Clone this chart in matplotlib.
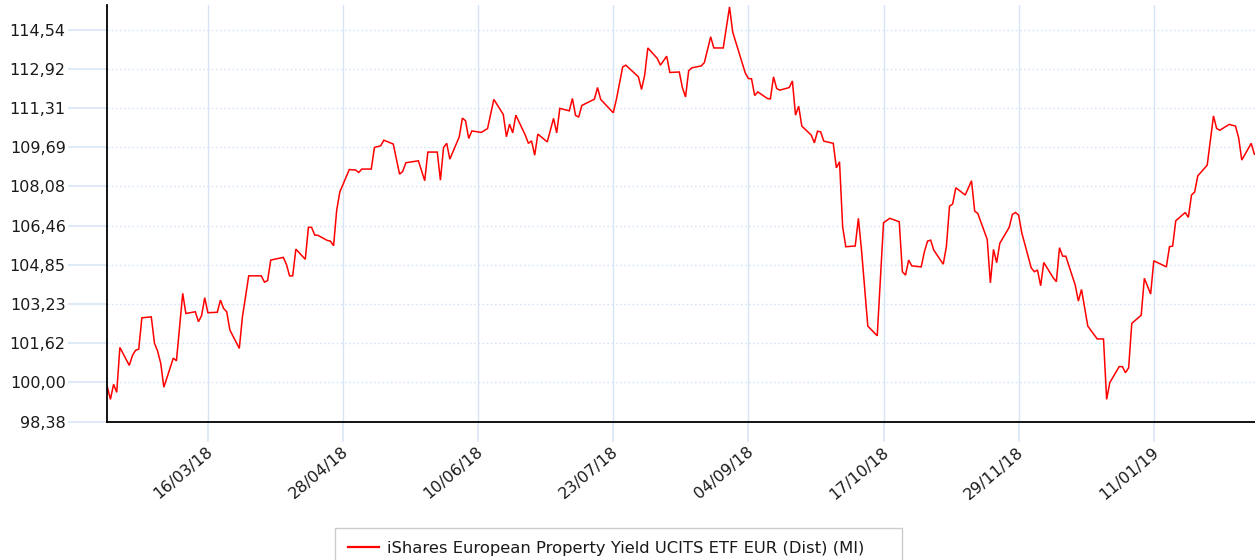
import matplotlib
matplotlib.use('Agg')
import matplotlib.pyplot as plt
import matplotlib.dates as mdates
import matplotlib.transforms as mtransforms
from matplotlib.patches import Rectangle
import pandas as pd

dates = [
    '2018-02-12', '2018-02-13', '2018-02-14', '2018-02-15', '2018-02-16', '2018-02-19', '2018-02-20',
    '2018-02-21', '2018-02-22', '2018-02-23', '2018-02-26', '2018-02-27', '2018-02-28', '2018-03-01',
    '2018-03-02', '2018-03-05', '2018-03-06', '2018-03-08', '2018-03-09', '2018-03-12', '2018-03-13',
    '2018-03-14', '2018-03-15', '2018-03-16', '2018-03-19', '2018-03-20', '2018-03-21', '2018-03-22',
    '2018-03-23', '2018-03-26', '2018-03-27', '2018-03-29', '2018-04-02', '2018-04-03', '2018-04-04',
    '2018-04-05', '2018-04-09', '2018-04-10', '2018-04-11', '2018-04-12', '2018-04-13', '2018-04-16',
    '2018-04-17', '2018-04-18', '2018-04-19', '2018-04-20', '2018-04-23', '2018-04-24', '2018-04-25',
    '2018-04-26', '2018-04-27', '2018-04-30', '2018-05-02', '2018-05-03', '2018-05-04', '2018-05-07',
    '2018-05-08', '2018-05-10', '2018-05-11', '2018-05-14', '2018-05-16', '2018-05-17', '2018-05-18',
    '2018-05-22', '2018-05-24', '2018-05-25', '2018-05-28', '2018-05-29', '2018-05-30', '2018-05-31',
    '2018-06-01', '2018-06-04', '2018-06-05', '2018-06-06', '2018-06-07', '2018-06-08', '2018-06-11',
    '2018-06-13', '2018-06-15', '2018-06-18', '2018-06-19', '2018-06-20', '2018-06-21', '2018-06-22',
    '2018-06-25', '2018-06-26', '2018-06-27', '2018-06-28', '2018-06-29', '2018-07-02', '2018-07-04',
    '2018-07-05', '2018-07-06', '2018-07-09', '2018-07-10', '2018-07-11', '2018-07-12', '2018-07-13',
    '2018-07-17', '2018-07-18', '2018-07-19', '2018-07-23', '2018-07-24', '2018-07-26', '2018-07-27',
    '2018-07-31', '2018-08-01', '2018-08-02', '2018-08-03', '2018-08-06', '2018-08-07', '2018-08-09',
    '2018-08-10', '2018-08-13', '2018-08-14', '2018-08-15', '2018-08-16', '2018-08-17', '2018-08-20',
    '2018-08-21', '2018-08-23', '2018-08-24', '2018-08-27', '2018-08-29', '2018-08-30', '2018-09-03',
    '2018-09-04', '2018-09-05', '2018-09-06', '2018-09-07', '2018-09-10', '2018-09-11', '2018-09-12',
    '2018-09-13', '2018-09-14', '2018-09-17', '2018-09-18', '2018-09-19', '2018-09-20', '2018-09-21',
    '2018-09-24', '2018-09-25', '2018-09-26', '2018-09-27', '2018-09-28', '2018-10-01', '2018-10-02',
    '2018-10-03', '2018-10-04', '2018-10-05', '2018-10-08', '2018-10-09', '2018-10-10', '2018-10-12',
    '2018-10-15', '2018-10-17', '2018-10-19', '2018-10-22', '2018-10-23', '2018-10-24', '2018-10-25',
    '2018-10-26', '2018-10-29', '2018-10-30', '2018-10-31', '2018-11-01', '2018-11-02', '2018-11-05',
    '2018-11-06', '2018-11-07', '2018-11-08', '2018-11-09', '2018-11-12', '2018-11-14', '2018-11-15',
    '2018-11-16', '2018-11-19', '2018-11-20', '2018-11-21', '2018-11-22', '2018-11-23', '2018-11-26',
    '2018-11-27', '2018-11-28', '2018-11-29', '2018-11-30', '2018-12-03', '2018-12-04', '2018-12-05',
    '2018-12-06', '2018-12-07', '2018-12-10', '2018-12-11', '2018-12-12', '2018-12-13', '2018-12-14',
    '2018-12-17', '2018-12-18', '2018-12-19', '2018-12-21', '2018-12-24', '2018-12-26', '2018-12-27',
    '2018-12-28', '2018-12-31', '2019-01-01', '2019-01-02', '2019-01-03', '2019-01-04', '2019-01-07',
    '2019-01-08', '2019-01-10', '2019-01-11', '2019-01-15', '2019-01-16', '2019-01-17', '2019-01-18',
    '2019-01-21', '2019-01-22', '2019-01-23', '2019-01-24', '2019-01-25', '2019-01-28', '2019-01-30',
    '2019-01-31', '2019-02-01', '2019-02-04', '2019-02-06', '2019-02-07', '2019-02-08', '2019-02-11',
    '2019-02-12',
]

values = [
    99.82, 99.30, 99.92, 99.59, 101.44, 100.70, 101.11,
    101.32, 101.37, 102.66, 102.70, 101.62, 101.29, 100.79,
    99.80, 101.00, 100.89, 103.67, 102.84, 102.91, 102.50,
    102.75, 103.49, 102.87, 102.89, 103.39, 103.05, 102.91,
    102.16, 101.40, 102.70, 104.39, 104.39, 104.13, 104.19,
    105.04, 105.15, 104.86, 104.39, 104.39, 105.49, 105.07,
    106.39, 106.39, 106.07, 106.06, 105.85, 105.82, 105.63,
    107.10, 107.85, 108.77, 108.75, 108.65, 108.79, 108.79,
    109.68, 109.75, 109.98, 109.82, 108.58, 108.69, 109.05,
    109.13, 108.31, 109.49, 109.49, 108.33, 109.68, 109.85,
    109.20, 110.12, 110.89, 110.78, 110.05, 110.36, 110.30,
    110.46, 111.66, 111.04, 110.12, 110.64, 110.28, 111.01,
    110.19, 109.85, 109.95, 109.36, 110.23, 109.91, 110.88,
    110.28, 111.29, 111.19, 111.70, 111.00, 110.93, 111.41,
    111.67, 112.15, 111.66, 111.11, 111.66, 113.00, 113.07,
    112.59, 112.07, 112.66, 113.78, 113.35, 113.07, 113.44,
    112.77, 112.79, 112.15, 111.76, 112.84, 112.96, 113.04,
    113.18, 114.24, 113.78, 113.78, 115.47, 114.44, 112.75,
    112.52, 112.51, 111.82, 111.97, 111.70, 111.68, 112.59,
    112.11, 112.04, 112.15, 112.42, 111.01, 111.38, 110.56,
    110.19, 109.87, 110.35, 110.32, 109.94, 109.85, 108.84,
    109.09, 106.41, 105.59, 105.62, 106.76, 105.45, 102.32,
    101.92, 106.58, 106.76, 106.62, 104.56, 104.42, 105.04,
    104.80, 104.76, 105.38, 105.82, 105.86, 105.45, 104.87,
    105.59, 107.26, 107.35, 108.02, 107.72, 108.31, 107.06,
    106.96, 105.89, 104.10, 105.48, 104.93, 105.73, 106.39,
    106.92, 107.00, 106.89, 106.16, 104.72, 104.56, 104.63,
    103.98, 104.94, 104.31, 104.15, 105.55, 105.20, 105.20,
    104.01, 103.35, 103.83, 102.32, 101.79, 101.79, 99.30,
    99.99, 100.65, 100.65, 100.40, 100.60, 102.43, 102.77,
    104.29, 103.64, 105.01, 104.76, 105.59, 105.62, 106.66,
    107.00, 106.80, 107.72, 107.84, 108.51, 108.95, 110.98,
    110.46, 110.39, 110.63, 110.56, 110.08, 109.16, 109.85,
    109.40,
]

x_tick_dates = ['2018-03-16', '2018-04-28', '2018-06-10', '2018-07-23',
                '2018-09-04', '2018-10-17', '2018-11-29', '2019-01-11']
y_ticks = [98.38, 100.00, 101.62, 103.23, 104.85, 106.46, 108.08, 109.69, 111.31, 112.92, 114.54]
y_tick_labels = ['98,38', '100,00', '101,62', '103,23', '104,85', '106,46',
                 '108,08', '109,69', '111,31', '112,92', '114,54']
series_label = 'iShares European Property Yield UCITS ETF EUR (Dist) (MI)'

W, H = 1255, 560
grid_col = '#d6e4f5'
text_col = '#1a1a1a'

fig = plt.figure(figsize=(W / 100, H / 100), dpi=100)
ax = fig.add_axes([107.3 / W, 1 - 421.7 / H, (W - 107.3) / W, (421.7 - 5) / H])

x = pd.to_datetime(dates)
line, = ax.plot(x, values, color='#ff0000', lw=1.1, solid_joinstyle='miter', zorder=3)

ax.set_xlim(pd.Timestamp('2018-02-12'), pd.Timestamp('2019-02-12 05:00'))
ax.set_ylim(98.38, 115.55)

ax.set_yticks(y_ticks)
ax.set_yticklabels(y_tick_labels)
ax.set_xticks(pd.to_datetime(x_tick_dates))
ax.xaxis.set_major_formatter(mdates.DateFormatter('%d/%m/%y'))

ax.set_axisbelow(True)
ax.yaxis.grid(True, linestyle=(0, (1.2, 1.8)), color=grid_col, lw=1.0)
ax.xaxis.grid(True, linestyle='-', color=grid_col, lw=1.0)

for s in ['top', 'right']:
    ax.spines[s].set_visible(False)
for s in ['left', 'bottom']:
    ax.spines[s].set_color('black')
    ax.spines[s].set_linewidth(1.3)
    ax.spines[s].set_zorder(4)

ax.tick_params(axis='y', length=28.3, width=1.1, color=grid_col, pad=1.7,
               labelsize=11.5, labelcolor=text_col)
ax.tick_params(axis='x', length=14.4, width=1.1, color=grid_col, pad=6,
               labelsize=11.5, labelcolor=text_col)
shift = mtransforms.ScaledTranslation(3 / 100, 0, fig.dpi_scale_trans)
for lab in ax.get_xticklabels():
    lab.set_rotation(40)
    lab.set_ha('right')
    lab.set_va('center')
    lab.set_rotation_mode('anchor')
    lab.set_transform(lab.get_transform() + shift)

# legend box (drawn separately so its padding matches the reference)
box_left, box_right, box_top = 335.0, 902.0, 528.0
fig.patches.append(Rectangle((box_left / W, -0.05), (box_right - box_left) / W,
                             (1 - box_top / H) + 0.05, transform=fig.transFigure,
                             facecolor='white', edgecolor='#cccccc', lw=1.0, zorder=1))
leg = fig.legend([line], [series_label], loc='upper left',
                 bbox_to_anchor=(box_left / W, 1 - box_top / H), frameon=False,
                 fontsize=11.8, handlelength=1.9, handletextpad=0.45,
                 borderpad=0.8, borderaxespad=0)
for t in leg.get_texts():
    t.set_color(text_col)
leg.get_lines()[0].set_linewidth(1.6)

fig.savefig('out.png', dpi=100)
